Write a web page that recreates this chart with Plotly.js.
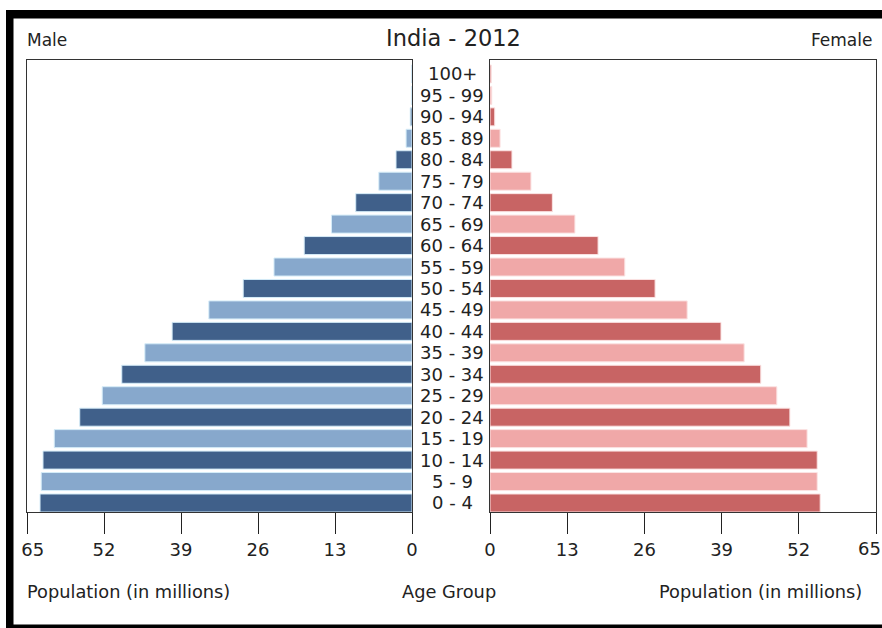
<!DOCTYPE html>
<html>
<head>
<meta charset="utf-8">
<script src="https://cdn.plot.ly/plotly-3.0.1.min.js"></script>
<style>html,body{margin:0;padding:0;background:#fff;}#chart{width:882px;height:628px;}</style>
</head>
<body>
<div id="chart"></div>
<script>
const ageGroups = ["0 - 4","5 - 9","10 - 14","15 - 19","20 - 24","25 - 29","30 - 34","35 - 39","40 - 44","45 - 49","50 - 54","55 - 59","60 - 64","65 - 69","70 - 74","75 - 79","80 - 84","85 - 89","90 - 94","95 - 99","100+"];
const maleMillions = [62.8,62.6,62.3,60.4,56.1,52.3,49.0,45.1,40.5,34.3,28.5,23.3,18.2,13.6,9.5,5.6,2.7,1.0,0.3,0.1,0.05];
const femaleMillions = [55.6,55.1,55.1,53.4,50.5,48.3,45.6,42.8,38.9,33.2,27.8,22.7,18.2,14.3,10.5,6.9,3.7,1.7,0.8,0.3,0.2];
const tickVals = [0,13,26,39,52,65];
const axisMax = 65;

const maleDark = "#40608a", maleLight = "#87a8cc";
const femDark = "#c86464", femLight = "#f0a8a8";
const maleColors = ageGroups.map((_, i) => i % 2 === 0 ? maleDark : maleLight);
const femColors = ageGroups.map((_, i) => i % 2 === 0 ? femDark : femLight);

const font = "DejaVu Sans, sans-serif";
const txt = "#222";
const NB = "\u00a0\u00a0";

const traces = [
  {type:"bar", orientation:"h", y:ageGroups, x:maleMillions, xaxis:"x", yaxis:"y",
   marker:{color:maleColors, line:{color:"#d5ecf8", width:1}}, hoverinfo:"x+y", showlegend:false},
  {type:"bar", orientation:"h", y:ageGroups, x:femaleMillions, xaxis:"x2", yaxis:"y2",
   marker:{color:femColors, line:{color:"#fbe3e3", width:1}}, hoverinfo:"x+y", showlegend:false}
];

const W = 882, plotTop = 60, plotBot = 512, H = plotBot - plotTop;
const px = v => v / W;
const py = v => (plotBot - v) / H;

const axisCommon = {
  showgrid:false, zeroline:false, showline:true, mirror:true, linecolor:"#333", linewidth:1,
  ticks:"outside", ticklen:21, tickcolor:"#222", tickwidth:1,
  tickvals:tickVals, ticklabeloverflow:"allow",
  tickfont:{family:font, size:18, color:txt}, fixedrange:true
};
const yCommon = {
  type:"category", categoryorder:"array", categoryarray:ageGroups, range:[-0.42, 20.65],
  showticklabels:false, showgrid:false, zeroline:false, showline:true, mirror:true,
  linecolor:"#333", linewidth:1, ticks:"", fixedrange:true
};

const annotations = ageGroups.map(a => ({
  text:a, xref:"paper", yref:"y", x:px(452), y:a, showarrow:false,
  xanchor:"center", yanchor:"middle", font:{family:font, size:18, color:txt}
}));
annotations.push(
  {text:"India - 2012", xref:"paper", yref:"paper", x:px(453), y:py(38), showarrow:false, xanchor:"center", yanchor:"middle", font:{family:font, size:22.5, color:txt}},
  {text:"Male", xref:"paper", yref:"paper", x:px(25), y:py(40), showarrow:false, xanchor:"left", yanchor:"middle", font:{family:font, size:17, color:txt}},
  {text:"Female", xref:"paper", yref:"paper", x:px(874), y:py(40), showarrow:false, xanchor:"right", yanchor:"middle", font:{family:font, size:17, color:txt}},
  {text:"Population (in millions)", xref:"paper", yref:"paper", x:px(25), y:py(591), showarrow:false, xanchor:"left", yanchor:"middle", font:{family:font, size:17.8, color:txt}},
  {text:"Age Group", xref:"paper", yref:"paper", x:px(449), y:py(591), showarrow:false, xanchor:"center", yanchor:"middle", font:{family:font, size:17.8, color:txt}},
  {text:"Population (in millions)", xref:"paper", yref:"paper", x:px(864), y:py(591), showarrow:false, xanchor:"right", yanchor:"middle", font:{family:font, size:17.8, color:txt}},
  {text:String(axisMax), xref:"x2", yref:"paper", x:axisMax, y:py(548), xshift:-7, showarrow:false, xanchor:"center", yanchor:"middle", font:{family:font, size:18, color:txt}}
);

const shapes = [
  {type:"rect", xref:"paper", yref:"paper", x0:px(6), x1:1, y0:py(10), y1:py(18.5), fillcolor:"#000", line:{width:0}, layer:"above"},
  {type:"rect", xref:"paper", yref:"paper", x0:px(6), x1:px(13.5), y0:py(10), y1:py(628), fillcolor:"#000", line:{width:0}, layer:"above"},
  {type:"rect", xref:"paper", yref:"paper", x0:px(6), x1:1, y0:py(624.5), y1:py(628), fillcolor:"#000", line:{width:0}, layer:"above"}
];

const layout = {
  width:882, height:628,
  margin:{l:0, r:0, t:plotTop, b:628 - plotBot, pad:0},
  paper_bgcolor:"#fff", plot_bgcolor:"#fff",
  bargap:0.16, showlegend:false,
  xaxis: Object.assign({}, axisCommon, {domain:[px(27), px(412)], range:[65, 0], anchor:"y",
    ticktext: tickVals.map(v => v === 65 ? NB + "65" : String(v))}),
  yaxis: Object.assign({}, yCommon, {anchor:"x"}),
  xaxis2: Object.assign({}, axisCommon, {domain:[px(490), px(876)], range:[0, 65], anchor:"y2",
    ticktext: tickVals.map(v => v === axisMax ? "" : String(v))}),
  yaxis2: Object.assign({}, yCommon, {anchor:"x2"}),
  annotations: annotations,
  shapes: shapes
};

Plotly.newPlot("chart", traces, layout, {displayModeBar:false, staticPlot:true});
</script>
</body>
</html>
